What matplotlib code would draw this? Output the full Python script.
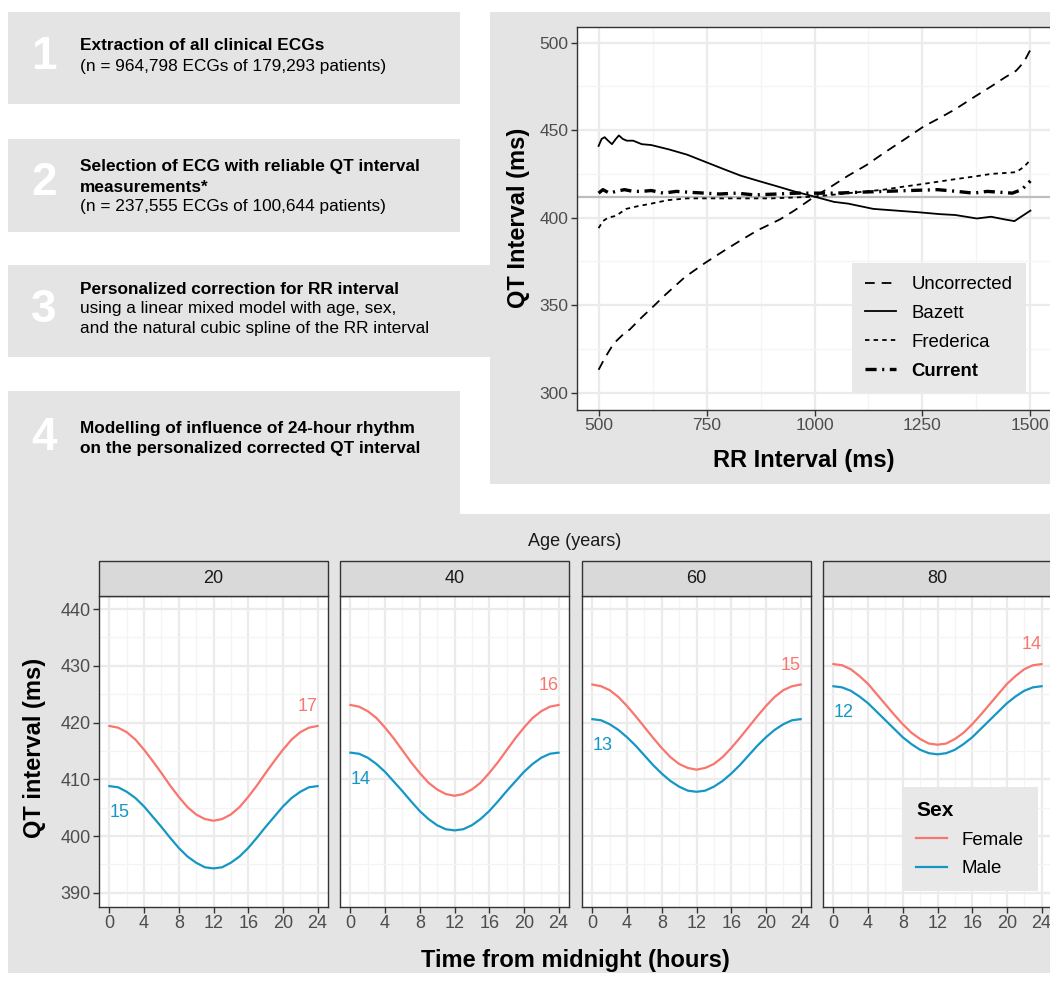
import numpy as np
import matplotlib.pyplot as plt
from matplotlib.patches import Rectangle
from matplotlib.lines import Line2D
from matplotlib.ticker import MultipleLocator

plt.rcParams['font.family'] = ['Liberation Sans', 'DejaVu Sans']
plt.rcParams['lines.scale_dashes'] = False

W, H = 1050, 982
GRAY = "#e4e4e4"
DARK = "#333333"
TICK = "#4d4d4d"

# ---- workflow steps ----
step_nums = ["1", "2", "3", "4"]
step_lines = [
    [("Extraction of all clinical ECGs", "bold"),
     ("(n = 964,798 ECGs of 179,293 patients)", "normal")],
    [("Selection of ECG with reliable QT interval", "bold"),
     ("measurements*", "bold"),
     ("(n = 237,555 ECGs of 100,644 patients)", "normal")],
    [("Personalized correction for RR interval", "bold"),
     ("using a linear mixed model with age, sex,", "normal"),
     ("and the natural cubic spline of the RR interval", "normal")],
    [("Modelling of influence of 24-hour rhythm", "bold"),
     ("on the personalized corrected QT interval", "bold")],
]

# ---- QT vs RR ----
rr_uncorr = [500, 515, 535, 560, 572, 600, 630, 655, 700, 746, 790, 829, 870, 887, 920,
             953, 1000, 1040, 1078, 1120, 1161, 1210, 1252, 1290, 1326, 1370, 1409, 1440,
             1467, 1485, 1500]
qt_uncorr = [313, 320, 328, 334, 336, 343, 350, 356, 366, 374, 381, 387, 393, 395, 399,
             404, 412, 418, 424, 430, 437, 445, 452, 457, 462, 469, 475, 480,
             484, 489, 496]

rr_bazett = [500, 507, 514, 522, 531, 540, 547, 556, 565, 580, 600, 622, 663, 705, 746,
             787, 829, 870, 912, 953, 1000, 1045, 1078, 1136, 1190, 1244, 1290, 1326,
             1376, 1409, 1440, 1463, 1500]
qt_bazett = [441, 445, 446, 444, 442, 445, 447, 445, 444, 444, 442, 441.5, 439, 436, 432,
             428, 424, 421, 418, 415, 412, 409, 408, 405, 404, 403, 402, 401.5,
             399.5, 400.5, 399, 398, 404]

rr_fred = [500, 510, 522, 540, 564, 590, 622, 660, 705, 770, 829, 900, 953, 1000, 1040,
           1078, 1120, 1161, 1200, 1244, 1285, 1326, 1370, 1409, 1440, 1467, 1485, 1500]
qt_fred = [394, 398, 400, 401, 405, 406.5, 408, 410, 411, 411, 411, 411, 411.5, 412, 413,
           414, 415, 416, 417.5, 419, 420.5, 422, 423.5, 425, 425.5, 426, 429, 433]

rr_curr = [500, 510, 525, 540, 560, 580, 600, 622, 650, 680, 710, 746, 780, 820, 860, 912,
           960, 1000, 1050, 1100, 1161, 1220, 1285, 1330, 1368, 1400, 1430, 1458, 1480, 1500]
qt_curr = [414, 416, 414, 415, 416, 415, 415, 415.5, 414, 415, 414.5, 414, 413.5, 414, 413,
           413.5, 414, 414, 414, 414.5, 415, 415.5, 416, 415, 414, 415, 414.5, 414, 416, 421]

qt_ref = 412

# ---- 24-hour rhythm by age and sex (hourly readings) ----
hours = list(range(25))
ages = ["20", "40", "60", "80"]
qt_female = [
    [419.4, 419.1, 418.3, 417.0, 415.2, 413.2, 411.1, 408.9, 406.9, 405.1, 403.8, 403.0, 402.7,
     403.0, 403.8, 405.1, 406.9, 408.9, 411.1, 413.2, 415.2, 417.0, 418.3, 419.1, 419.4],
    [423.1, 422.8, 422.0, 420.8, 419.1, 417.2, 415.1, 413.0, 411.1, 409.4, 408.2, 407.4, 407.1,
     407.4, 408.2, 409.4, 411.1, 413.0, 415.1, 417.2, 419.1, 420.8, 422.0, 422.8, 423.1],
    [426.7, 426.4, 425.7, 424.5, 422.9, 421.1, 419.2, 417.3, 415.5, 413.9, 412.7, 412.0, 411.7,
     412.0, 412.7, 413.9, 415.5, 417.3, 419.2, 421.1, 422.9, 424.5, 425.7, 426.4, 426.7],
    [430.3, 430.1, 429.4, 428.2, 426.8, 425.0, 423.2, 421.4, 419.7, 418.2, 417.1, 416.3, 416.1,
     416.3, 417.1, 418.2, 419.7, 421.4, 423.2, 425.0, 426.8, 428.2, 429.4, 430.1, 430.3],
]
qt_male = [
    [408.8, 408.6, 407.8, 406.7, 405.2, 403.4, 401.6, 399.7, 397.9, 396.4, 395.3, 394.5, 394.3,
     394.5, 395.3, 396.4, 397.9, 399.7, 401.6, 403.4, 405.2, 406.7, 407.8, 408.6, 408.8],
    [414.7, 414.5, 413.8, 412.7, 411.3, 409.6, 407.9, 406.1, 404.4, 403.0, 401.9, 401.2, 401.0,
     401.2, 401.9, 403.0, 404.4, 406.1, 407.9, 409.6, 411.3, 412.7, 413.8, 414.5, 414.7],
    [420.6, 420.4, 419.7, 418.7, 417.4, 415.9, 414.2, 412.5, 411.0, 409.7, 408.7, 408.0, 407.8,
     408.0, 408.7, 409.7, 411.0, 412.5, 414.2, 415.9, 417.4, 418.7, 419.7, 420.4, 420.6],
    [426.4, 426.2, 425.6, 424.6, 423.4, 421.9, 420.4, 418.9, 417.4, 416.2, 415.2, 414.6, 414.4,
     414.6, 415.2, 416.2, 417.4, 418.9, 420.4, 421.9, 423.4, 424.6, 425.6, 426.2, 426.4],
]
amp_female = [17, 16, 15, 14]
amp_male = [15, 14, 13, 12]
C_FEMALE = "#f8766d"
C_MALE = "#1597c5"


def fx(x):
    return x / W


def fy(y):
    return 1 - y / H


def add_ax(x0, y0, x1, y1):
    return fig.add_axes([x0 / W, 1 - y1 / H, (x1 - x0) / W, (y1 - y0) / H])


def add_rect(x0, y0, x1, y1, color=GRAY, edge="none", lw=0, z=-5):
    r = Rectangle((fx(x0), fy(y1)), (x1 - x0) / W, (y1 - y0) / H, transform=fig.transFigure,
                  facecolor=color, edgecolor=edge, lw=lw, zorder=z)
    fig.add_artist(r)


def style_axes(ax, size):
    ax.set_facecolor("white")
    for s in ax.spines.values():
        s.set_color(DARK)
        s.set_linewidth(1.0)
    ax.tick_params(which="major", direction="out", length=4, width=1, color=DARK,
                   labelcolor=TICK, labelsize=size, pad=2)
    ax.tick_params(which="minor", length=0)
    ax.set_axisbelow(True)
    ax.grid(which="major", color="#ebebeb", lw=1.6)
    ax.grid(which="minor", color="#f4f4f4", lw=0.9)


fig = plt.figure(figsize=(W / 100, H / 100), dpi=100)
fig.patch.set_facecolor("white")

# gray backgrounds
add_rect(8, 12, 460, 104)
add_rect(8, 139, 460, 232)
add_rect(8, 265, 491, 357)
add_rect(8, 391, 460, 516)
add_rect(8, 514, 1050, 973)
add_rect(490, 12, 1050, 484)

step_y = [[46, 67], [166, 187, 207], [289, 309, 329], [429, 449]]
num_y = [57, 183, 310, 438]
for num, lines, ys, ny in zip(step_nums, step_lines, step_y, num_y):
    fig.text(fx(44), fy(ny), num, color="white", fontsize=33, fontweight="bold",
             ha="center", va="center")
    for (txt, wt), y in zip(lines, ys):
        fig.text(fx(80), fy(y), txt, fontsize=12.4, fontweight=wt, color="black",
                 ha="left", va="center")

# ---- top right: QT vs RR ----
ax = add_ax(577, 27, 1052, 410)
style_axes(ax, 12.5)
ax.axhline(qt_ref, color="#bdbdbd", lw=1.6, zorder=1)
ax.plot(rr_uncorr, qt_uncorr, color="black", lw=1.3, ls=(0, (7, 5)), label="Uncorrected")
ax.plot(rr_bazett, qt_bazett, color="black", lw=1.3, ls="-", label="Bazett")
ax.plot(rr_fred, qt_fred, color="black", lw=1.3, ls=(0, (3.2, 3)), label="Frederica")
ax.plot(rr_curr, qt_curr, color="black", lw=2.4, ls=(0, (8, 4, 1.5, 4)), label="Current")
ax.set_xlim(450, 1550)
ax.set_ylim(290, 509)
ax.xaxis.set_major_locator(MultipleLocator(250))
ax.xaxis.set_minor_locator(MultipleLocator(125))
ax.yaxis.set_major_locator(MultipleLocator(50))
ax.yaxis.set_minor_locator(MultipleLocator(25))
ax.spines["right"].set_visible(False)
fig.text(fx(518), fy(218), "QT Interval (ms)", rotation=90, fontsize=17, fontweight="bold",
         ha="center", va="center")
fig.text(fx(804), fy(460), "RR Interval (ms)", fontsize=17, fontweight="bold",
         ha="center", va="center")
leg = ax.legend(loc="upper left", bbox_to_anchor=(fx(852), fy(263)),
                bbox_transform=fig.transFigure, fontsize=13.4, frameon=True,
                facecolor="#e8e8e8", edgecolor="none", fancybox=False, framealpha=1,
                handlelength=1.65, handletextpad=0.85, labelspacing=0.64, borderpad=0.7,
                borderaxespad=0)
leg.get_texts()[3].set_fontweight("bold")

# ---- bottom: facets ----
fig.text(fx(575), fy(542), "Age (years)", fontsize=13, color="#1a1a1a",
         ha="center", va="center")
panel_left = [99, 340, 582, 823]
for i, (age, fem, mal, af, am) in enumerate(zip(ages, qt_female, qt_male, amp_female, amp_male)):
    x0 = panel_left[i]
    bx = add_ax(x0, 596, x0 + 229, 907)
    style_axes(bx, 13)
    bx.plot(hours, fem, color=C_FEMALE, lw=1.6, label="Female", solid_joinstyle="round")
    bx.plot(hours, mal, color=C_MALE, lw=1.6, label="Male", solid_joinstyle="round")
    bx.set_xlim(-1.2, 25.2)
    bx.set_ylim(387.5, 442.3)
    bx.set_xticks(range(0, 25, 4))
    bx.xaxis.set_minor_locator(MultipleLocator(2))
    bx.yaxis.set_major_locator(MultipleLocator(10))
    bx.yaxis.set_minor_locator(MultipleLocator(5))
    if i > 0:
        bx.tick_params(axis="y", which="both", left=False, labelleft=False)
    bx.annotate(str(af), xy=(hours[-1], fem[-1]), xytext=(-7, 14), textcoords="offset points",
                color=C_FEMALE, fontsize=13, ha="center", va="center")
    bx.annotate(str(am), xy=(hours[0], mal[0]), xytext=(7.5, -19), textcoords="offset points",
                color=C_MALE, fontsize=13, ha="center", va="center")
    add_rect(x0, 561, x0 + 229, 596, color="#d9d9d9", edge=DARK, lw=1.0, z=5)
    fig.text(fx(x0 + 114.5), fy(578.5), age, fontsize=13, color="#1a1a1a",
             ha="center", va="center", zorder=6)

fig.text(fx(35), fy(748), "QT interval (ms)", rotation=90, fontsize=17, fontweight="bold",
         ha="center", va="center")
fig.text(fx(575), fy(960), "Time from midnight (hours)", fontsize=17, fontweight="bold",
         ha="center", va="center")

handles = [Line2D([], [], color=C_FEMALE, lw=1.6), Line2D([], [], color=C_MALE, lw=1.6)]
sleg = fig.legend(handles, ["Female", "Male"], title="Sex", loc="upper left",
                  bbox_to_anchor=(fx(902), fy(787)), fontsize=13.4, frameon=True,
                  facecolor="#e8e8e8", edgecolor="none", fancybox=False, framealpha=1,
                  handlelength=1.65, handletextpad=0.8, labelspacing=0.62, borderpad=0.75,
                  borderaxespad=0, alignment="left",
                  title_fontproperties={"weight": "bold", "size": 15})

fig.savefig("out.png", dpi=100)
